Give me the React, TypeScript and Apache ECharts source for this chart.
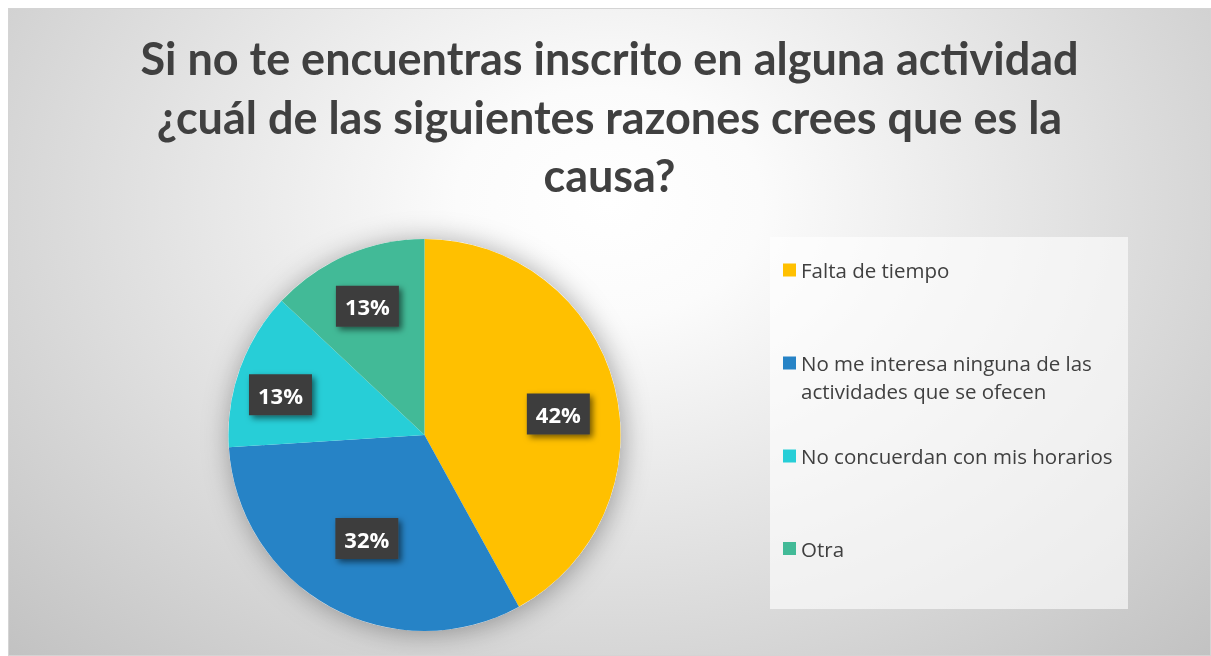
import React, { useEffect, useRef } from "react";
import * as echarts from "echarts";

const TITLE_LINES = [
  "Si no te encuentras inscrito en alguna actividad",
  "¿cuál de las siguientes razones crees que es la",
  "causa?",
];
const CATEGORIES = [
  "Falta de tiempo",
  "No me interesa ninguna de las actividades que se ofecen",
  "No concuerdan con mis horarios",
  "Otra",
];
const VALUES = [42, 32, 13, 13];
const COLORS = ["#FFC000", "#2683C6", "#27CED7", "#42BA97"];
const LABEL_OFFSETS: [number, number][] = [
  [36, 4],
  [-9, 15],
  [-49, -6],
  [-17, -36],
];
const LEGEND_TOPS = [247, 312, 433, 525.5];

export default function App() {
  const ref = useRef<HTMLDivElement>(null);
  useEffect(() => {
    if (!ref.current) return;
    const chart = echarts.init(ref.current, undefined, { renderer: "svg" });
    const legendFormatter = (name: string) =>
      name === CATEGORIES[1]
        ? " \nNo me interesa ninguna de las\nactividades que se ofecen"
        : name;
    chart.setOption({
      animation: false,
      backgroundColor: "transparent",
      title: {
        text: TITLE_LINES.join("\n"),
        left: "center",
        top: 15,
        textStyle: {
          fontFamily: "Lato",
          fontWeight: "bold",
          fontSize: 45,
          lineHeight: 58.5,
          color: "#404040",
        },
      },
      graphic: [
        {
          type: "rect",
          shape: { x: 761, y: 228, width: 358, height: 372 },
          style: { fill: "rgba(255,255,255,0.62)" },
          z: -1,
          silent: true,
        },
      ],
      legend: CATEGORIES.map((c, i) => ({
        data: [c],
        orient: "vertical",
        left: 774,
        top: LEGEND_TOPS[i],
        padding: 0,
        itemWidth: 13,
        itemHeight: 13,
        icon: "rect",
        selectedMode: false,
        formatter: legendFormatter,
        textStyle: {
          fontFamily: "Open Sans",
          fontSize: 20.5,
          lineHeight: 28,
          color: "#404040",
        },
      })),
      series: [
        {
          type: "pie",
          name: "shadow",
          center: [415.5, 426],
          radius: 196,
          silent: true,
          z: 1,
          label: { show: false },
          labelLine: { show: false },
          itemStyle: {
            color: "#ffffff",
            shadowBlur: 28,
            shadowColor: "rgba(0,0,0,0.35)",
            shadowOffsetX: 2,
            shadowOffsetY: 2,
          },
          data: [{ value: 1, name: "_shadow" }],
        },
        {
          type: "pie",
          name: "razones",
          center: [415.5, 426],
          radius: 196,
          startAngle: 90,
          clockwise: true,
          z: 2,
          color: COLORS,
          itemStyle: { borderWidth: 0 },
          label: {
            show: true,
            position: "inside",
            formatter: "{d}%",
            fontFamily: "Open Sans",
            fontWeight: "bold",
            fontSize: 22,
            lineHeight: 22,
            color: "#ffffff",
            backgroundColor: "#3d3d3d",
            padding: [10, 9, 9, 9],
            shadowColor: "rgba(0,0,0,0.55)",
            shadowBlur: 6,
            shadowOffsetX: 3,
            shadowOffsetY: 3,
          },
          labelLine: { show: false },
          emphasis: { disabled: true },
          data: CATEGORIES.map((c, i) => ({
            name: c,
            value: VALUES[i],
            label: { offset: LABEL_OFFSETS[i] },
          })),
        },
      ],
    });
    return () => chart.dispose();
  }, []);
  return (
    <div
      style={{
        position: "fixed",
        left: 8,
        top: 8,
        width: 1203,
        height: 648,
        boxSizing: "border-box",
        border: "1px solid #d4d4d4",
        background:
          "radial-gradient(ellipse farthest-corner at 50% 30%, #ffffff 0%, #fbfbfb 18%, #c2c2c2 100%)",
      }}
    >
      <div ref={ref} style={{ width: "100%", height: "100%" }} />
    </div>
  );
}
